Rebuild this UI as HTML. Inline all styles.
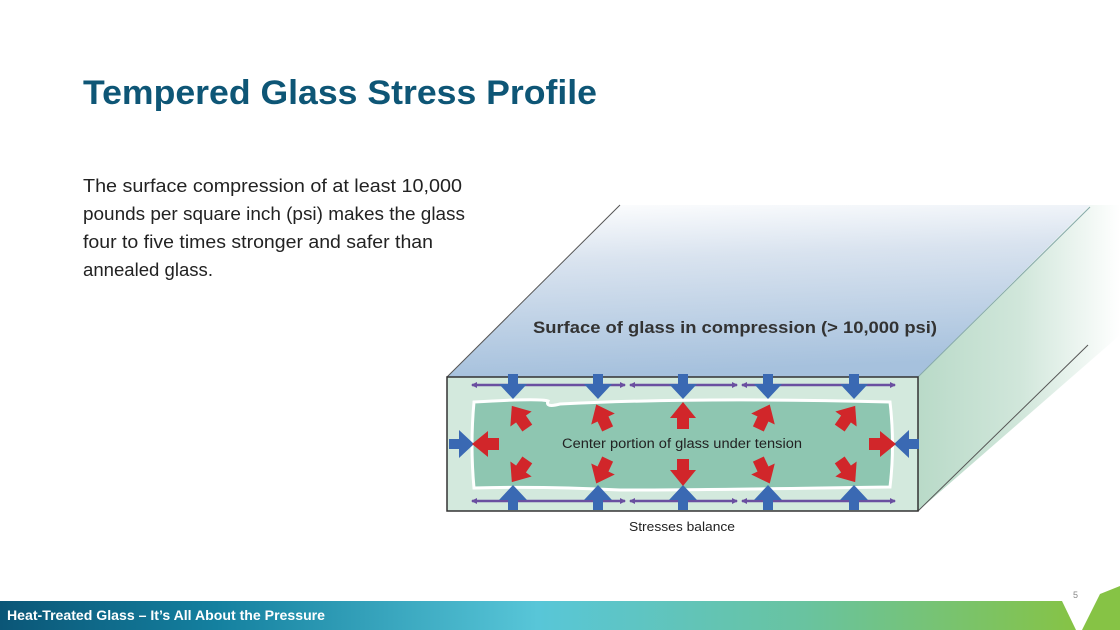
<!DOCTYPE html>
<html><head><meta charset="utf-8"><style>
html,body{margin:0;padding:0;background:#fff;}
svg{display:block;}
</style></head><body>
<svg width="1120" height="630" viewBox="0 0 1120 630" xmlns="http://www.w3.org/2000/svg" font-family="Liberation Sans, sans-serif">
<defs>
<linearGradient id="top" x1="0" y1="0" x2="0.15" y2="1">
<stop offset="0" stop-color="#ffffff"/><stop offset="0.35" stop-color="#d9e3ef"/><stop offset="1" stop-color="#a6c1dd"/></linearGradient>
<linearGradient id="right" x1="0" y1="0" x2="1" y2="0">
<stop offset="0" stop-color="#b9dac8"/><stop offset="0.5" stop-color="#d0e6da"/><stop offset="1" stop-color="#ffffff"/></linearGradient>
<linearGradient id="bar" x1="0" y1="0" x2="1" y2="0">
<stop offset="0" stop-color="#0b5677"/><stop offset="0.2" stop-color="#14809f"/><stop offset="0.5" stop-color="#58c6d8"/><stop offset="0.75" stop-color="#69c39f"/><stop offset="1" stop-color="#86c345"/></linearGradient>
<marker id="ah" markerWidth="6" markerHeight="6" refX="5" refY="3" orient="auto-start-reverse" markerUnits="userSpaceOnUse"><path d="M0,0 L6,3 L0,6z" fill="#6a4fa0"/></marker>
<g id="bd"><rect x="-5" y="-22" width="10" height="10" fill="#3a69b3"/><path d="M-14,-12 L14,-12 L0,3z" fill="#3a69b3"/></g>
<g id="rd"><rect x="-6" y="-1" width="12" height="12" fill="#d1262a"/><path d="M-13,0 L13,0 L0,-16z" fill="#d1262a"/></g>
</defs>
<text x="83" y="104" font-size="34" font-weight="bold" fill="#0e5676" textLength="514" lengthAdjust="spacingAndGlyphs">Tempered Glass Stress Profile</text>
<g font-size="18" fill="#222">
<text x="83" y="192" textLength="379" lengthAdjust="spacingAndGlyphs">The surface compression of at least 10,000</text>
<text x="83" y="220" textLength="382" lengthAdjust="spacingAndGlyphs">pounds per square inch (psi) makes the glass</text>
<text x="83" y="248" textLength="350" lengthAdjust="spacingAndGlyphs">four to five times stronger and safer than</text>
<text x="83" y="276" textLength="130" lengthAdjust="spacingAndGlyphs">annealed glass.</text>
</g>
<!-- glass block -->
<polygon points="918,377 1090,205 1120,205 1120,335 918,511" fill="url(#right)"/>
<polygon points="447,377 918,377 1090,205 620,205" fill="url(#top)"/>
<line x1="447" y1="377" x2="620" y2="205" stroke="#555" stroke-width="1"/>
<line x1="918" y1="377" x2="1090" y2="207" stroke="#8aa" stroke-width="1"/>
<line x1="918" y1="511" x2="1088" y2="345" stroke="#555" stroke-width="1"/>
<text x="533" y="333" font-size="17" font-weight="bold" fill="#333" textLength="404" lengthAdjust="spacingAndGlyphs">Surface of glass in compression (&gt; 10,000 psi)</text>
<rect x="447" y="377" width="471" height="134" fill="#d3e9dd" stroke="#333" stroke-width="1.5"/>
<path d="M474,402 Q540,398 548,401 Q545,408 560,404 Q700,397 890,402 Q895,445 890,487 Q700,490 620,490 Q540,486 474,488 Q470,445 474,402z" fill="#8ec6b1" stroke="#fff" stroke-width="3"/>
<text x="682" y="448" font-size="13.5" fill="#222" text-anchor="middle" textLength="240" lengthAdjust="spacingAndGlyphs">Center portion of glass under tension</text>
<text x="682" y="531" font-size="13" fill="#222" text-anchor="middle" textLength="106" lengthAdjust="spacingAndGlyphs">Stresses balance</text>
<g stroke="#6a4fa0" stroke-width="2.5" marker-start="url(#ah)" marker-end="url(#ah)">
<line x1="472" y1="385" x2="625" y2="385"/><line x1="630" y1="385" x2="737" y2="385"/><line x1="742" y1="385" x2="895" y2="385"/>
<line x1="472" y1="501" x2="625" y2="501"/><line x1="630" y1="501" x2="737" y2="501"/><line x1="742" y1="501" x2="895" y2="501"/>
</g>
<g>
<use href="#bd" transform="translate(513,396)"/><use href="#bd" transform="translate(598,396)"/><use href="#bd" transform="translate(683,396)"/><use href="#bd" transform="translate(768,396)"/><use href="#bd" transform="translate(854,396)"/>
<use href="#bd" transform="translate(513,488) rotate(180)"/><use href="#bd" transform="translate(598,488) rotate(180)"/><use href="#bd" transform="translate(683,488) rotate(180)"/><use href="#bd" transform="translate(768,488) rotate(180)"/><use href="#bd" transform="translate(854,488) rotate(180)"/>
<use href="#bd" transform="translate(471,444) rotate(-90)"/><use href="#bd" transform="translate(897,444) rotate(90)"/>
</g>
<g>
<use href="#rd" transform="translate(521,419) rotate(-35)"/><use href="#rd" transform="translate(603,419) rotate(-25)"/><use href="#rd" transform="translate(683,418)"/><use href="#rd" transform="translate(763,419) rotate(25)"/><use href="#rd" transform="translate(846,419) rotate(35)"/>
<use href="#rd" transform="translate(521,469) rotate(-145)"/><use href="#rd" transform="translate(603,469) rotate(-155)"/><use href="#rd" transform="translate(683,470) rotate(180)"/><use href="#rd" transform="translate(763,469) rotate(155)"/><use href="#rd" transform="translate(846,469) rotate(145)"/>
<use href="#rd" transform="translate(488,444) rotate(-90)"/><use href="#rd" transform="translate(880,444) rotate(90)"/>
</g>
<polygon points="0,601 1062,601 1076,630 0,630" fill="url(#bar)"/>
<polygon points="1082,630 1100,594 1120,586 1120,630" fill="#86c345"/>
<text x="1073" y="598" font-size="9" fill="#888">5</text>
<text x="7" y="620" font-size="13.5" font-weight="bold" fill="#fff" textLength="318" lengthAdjust="spacingAndGlyphs">Heat-Treated Glass – It’s All About the Pressure</text>
</svg>
</body></html>
